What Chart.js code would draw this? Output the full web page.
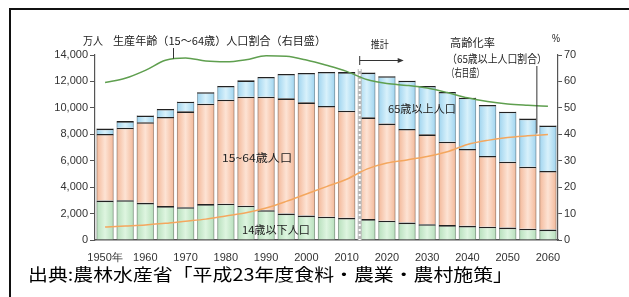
<!DOCTYPE html>
<html><head><meta charset="utf-8">
<script src="https://cdn.jsdelivr.net/npm/chart.js@4.4.1/dist/chart.umd.min.js"></script>
<style>html,body{margin:0;padding:0;background:#fff}#wrap{position:relative;width:629px;height:297px}</style>
</head><body><div id="wrap"><canvas id="c" width="629" height="297"></canvas></div>
<script>
const years = ['1950','1955','1960','1965','1970','1975','1980','1985','1990','1995','2000','2005','2010','2015','2020','2025','2030','2035','2040','2045','2050','2055','2060'];
const tickLabels = ['1950年','','1960','','1970','','1980','','1990','','2000','','2010','','2020','','2030','','2040','','2050','','2060'];
const under15 = [2980,3010,2810,2570,2480,2720,2750,2600,2250,2000,1850,1760,1680,1580,1460,1320,1200,1130,1070,1010,940,860,790];
const age15to64 = [5040,5490,6100,6740,7260,7600,7870,8250,8600,8720,8570,8380,8110,7700,7350,7080,6800,6310,5820,5350,4990,4690,4430];
const over65 = [410,500,520,610,730,870,1040,1230,1490,1850,2220,2580,2920,3390,3590,3660,3660,3760,3880,3860,3780,3640,3450];
const workingShare = [59.6,61.2,64.2,68.0,68.9,67.7,67.4,68.2,69.7,69.5,68.1,66.1,63.8,60.7,59.2,58.5,57.5,55.8,53.8,52.4,51.5,51.0,50.6];
const elderShare = [4.9,5.3,5.7,6.3,7.1,7.9,9.1,10.3,12.1,14.6,17.4,20.2,23.0,26.8,29.1,30.3,31.6,33.4,36.1,37.7,38.8,39.4,39.9];
const leftTicks = [0,2000,4000,6000,8000,10000,12000,14000];
const rightTicks = [0,10,20,30,40,50,60,70];

const JP = "'Noto Sans CJK JP', 'Noto Sans', sans-serif";
const NUM = "'Liberation Sans', Arial, sans-serif";

function grad(edge, mid){
  return function(ctx){
    const chart = ctx.chart; const xs = chart.scales && chart.scales.x;
    if(!chart.chartArea || !xs || ctx.dataIndex === undefined) return mid;
    const cx = xs.getPixelForValue(ctx.dataIndex);
    const w = (xs.getPixelForValue(1) - xs.getPixelForValue(0)) * 0.85;
    const g = chart.ctx.createLinearGradient(cx - w/2, 0, cx + w/2, 0);
    g.addColorStop(0, edge); g.addColorStop(0.5, mid); g.addColorStop(1, edge);
    return g;
  };
}

function drawFit(ctx, text, x, y, w, font, color){
  ctx.save();
  ctx.font = font; ctx.fillStyle = color || '#222'; ctx.textBaseline = 'middle'; ctx.textAlign = 'left';
  const nat = ctx.measureText(text).width;
  const s = w / nat;
  ctx.translate(x, y); ctx.scale(s, 1);
  ctx.fillText(text, 0, 0);
  ctx.restore();
}

const overlay = {
  id: 'overlay',
  afterDatasetDraw(chart, args){
    const ds = chart.data.datasets[args.index];
    if(ds.type === 'line') return;
    const ctx = chart.ctx; const meta = args.meta;
    ctx.save();
    ctx.strokeStyle = 'rgba(60,60,60,0.45)'; ctx.lineWidth = 0.8;
    meta.data.forEach(el => {
      const l = el.x - el.width/2, r = el.x + el.width/2;
      const t = Math.min(el.y, el.base), b = Math.max(el.y, el.base);
      ctx.beginPath(); ctx.moveTo(l+0.4, t); ctx.lineTo(l+0.4, b); ctx.moveTo(r-0.4, t); ctx.lineTo(r-0.4, b); ctx.stroke();
    });
    ctx.restore();
    if(args.index === 2){
      const xs = chart.scales.x;
      const cw = xs.getPixelForValue(1) - xs.getPixelForValue(0);
      const px = xs.getPixelForValue(13) - cw*0.85/2 + 1.5;
      const yTop = 69, yBot = chart.chartArea.bottom;
      ctx.save();
      ctx.strokeStyle = '#b8b8b8'; ctx.lineWidth = 4;
      ctx.beginPath(); ctx.moveTo(px, yTop); ctx.lineTo(px, yBot); ctx.stroke();
      ctx.strokeStyle = '#ffffff'; ctx.lineWidth = 2; ctx.setLineDash([2,3]);
      ctx.beginPath(); ctx.moveTo(px, yTop); ctx.lineTo(px, yBot); ctx.stroke();
      ctx.restore();
    }
  },
  afterDraw(chart){
    const ctx = chart.ctx; const xs = chart.scales.x; const y1 = chart.scales.y1;
    const cw = xs.getPixelForValue(1) - xs.getPixelForValue(0);
    ctx.save();
    ctx.strokeStyle = '#111'; ctx.lineWidth = 2;
    ctx.beginPath(); ctx.moveTo(10, 297); ctx.lineTo(10, 9); ctx.lineTo(629, 9); ctx.stroke();
    ctx.restore();
    drawFit(ctx, '万人', 83, 41, 20, '11px ' + JP, '#222');
    drawFit(ctx, '生産年齢（15～64歳）人口割合（右目盛）', 113, 41, 213, '11px ' + JP, '#222');
    drawFit(ctx, '%', 552, 39, 8, '10px ' + NUM, '#222');
    const px1 = xs.getPixelForValue(3) + cw*0.4;
    ctx.save(); ctx.strokeStyle = '#333'; ctx.lineWidth = 1;
    ctx.beginPath(); ctx.moveTo(px1, 48); ctx.lineTo(px1, y1.getPixelForValue(68.6)); ctx.stroke(); ctx.restore();
    const ax = xs.getPixelForValue(13) - cw*0.85/2 + 1.5;
    drawFit(ctx, '推計', ax + 11, 44, 18, '10px ' + JP, '#222');
    ctx.save(); ctx.strokeStyle = '#333'; ctx.fillStyle = '#333'; ctx.lineWidth = 1;
    ctx.beginPath(); ctx.moveTo(ax, 56); ctx.lineTo(ax, 65); ctx.moveTo(ax, 60.5); ctx.lineTo(ax + 40, 60.5); ctx.stroke();
    ctx.beginPath(); ctx.moveTo(ax + 44, 60.5); ctx.lineTo(ax + 38, 58); ctx.lineTo(ax + 38, 63); ctx.closePath(); ctx.fill();
    ctx.restore();
    drawFit(ctx, '高齢化率', 450, 43, 45, '11px ' + JP, '#222');
    drawFit(ctx, '（65歳以上人口割合）', 447, 59, 100, '11px ' + JP, '#222');
    drawFit(ctx, '（右目盛）', 447, 73, 37, '11px ' + JP, '#222');
    const px2 = xs.getPixelForValue(21) + cw*0.45;
    ctx.save(); ctx.strokeStyle = '#333'; ctx.lineWidth = 1;
    ctx.beginPath(); ctx.moveTo(px2, 66); ctx.lineTo(px2, y1.getPixelForValue(40.3)); ctx.stroke(); ctx.restore();
    drawFit(ctx, '65歳以上人口', 388, 109, 68, '11px ' + JP, '#222');
    drawFit(ctx, '15~64歳人口', 222, 158, 70, '11px ' + JP, '#222');
    drawFit(ctx, '14歳以下人口', 242, 230, 68, '11px ' + JP, '#222');
    drawFit(ctx, '出典:農林水産省「平成23年度食料・農業・農村施策」', 28, 275, 485, '17px ' + JP, '#000');
  }
};

new Chart(document.getElementById('c'), {
  type: 'bar',
  data: {
    labels: years,
    datasets: [
      { type:'line', label:'生産年齢人口割合', data: workingShare, yAxisID:'y1', borderColor:'#5f9f4f', borderWidth:1.5, pointRadius:0, cubicInterpolationMode:'monotone', order:0 },
      { type:'line', label:'高齢化率', data: elderShare, yAxisID:'y1', borderColor:'#f4a75e', borderWidth:1.5, pointRadius:0, cubicInterpolationMode:'monotone', order:0 },
      { label:'14歳以下人口', data: under15, backgroundColor: grad('#b7dfbc','#def5e0'), borderColor:'#222', borderWidth:{top:1.6,left:0,right:0,bottom:0}, borderSkipped:false, stack:'p', order:1 },
      { label:'15~64歳人口', data: age15to64, backgroundColor: grad('#f3b899','#fde3d4'), borderColor:'#222', borderWidth:{top:1.6,left:0,right:0,bottom:0}, borderSkipped:false, stack:'p', order:1 },
      { label:'65歳以上人口', data: over65, backgroundColor: grad('#9fd4ef','#d8f1fb'), borderColor:'#222', borderWidth:{top:1.6,left:0,right:0,bottom:0}, borderSkipped:false, stack:'p', order:1 }
    ]
  },
  options: {
    responsive:false, animation:false, devicePixelRatio:1,
    layout:{ padding:{ top:55, bottom:0, left:0, right:0 } },
    plugins:{ legend:{display:false}, tooltip:{enabled:false} },
    datasets:{ bar:{ categoryPercentage:0.85, barPercentage:1.0 } },
    scales:{
      x:{ stacked:true, grid:{display:false, drawTicks:false, tickLength:0}, border:{display:true, color:'#555', width:1.5},
          afterFit(s){ s.height = 57; },
          ticks:{ autoSkip:false, maxRotation:0, padding:11, color:'#333', font:{family:NUM, size:11},
                  callback:(v,i)=>tickLabels[i] } },
      y:{ stacked:true, position:'left', min:0, max:14000,
          afterFit(s){ s.width = 95; },
          afterBuildTicks(s){ s.ticks = leftTicks.map(v=>({value:v})); },
          grid:{ drawOnChartArea:false, tickLength:5, color:'#555' }, border:{display:true, color:'#555', width:1.2},
          ticks:{ padding:2, color:'#333', font:{family:NUM, size:11}, callback:v=>v.toLocaleString('en-US') } },
      y1:{ position:'right', min:0, max:70,
          afterFit(s){ s.width = 629 - 558; },
          afterBuildTicks(s){ s.ticks = rightTicks.map(v=>({value:v})); },
          grid:{ drawOnChartArea:false, tickLength:4, color:'#555' }, border:{display:true, color:'#555', width:1.2},
          ticks:{ padding:2, color:'#333', font:{family:NUM, size:11} } }
    }
  },
  plugins:[overlay]
});
</script></body></html>
